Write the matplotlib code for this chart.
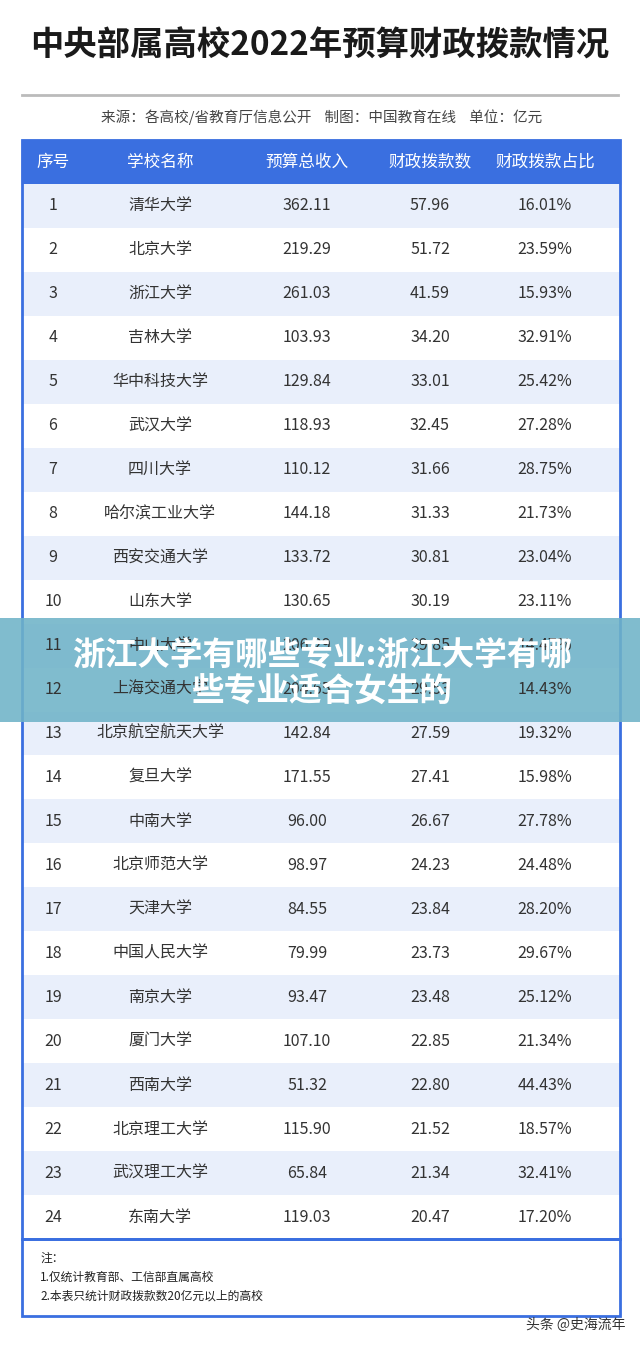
import matplotlib
matplotlib.use("Agg")
import matplotlib.pyplot as plt
from matplotlib.patches import Rectangle

plt.rcParams['font.family'] = ['Noto Sans CJK SC', 'DejaVu Sans']

title = "中央部属高校2022年预算财政拨款情况"
subtitle = "来源：各高校/省教育厅信息公开    制图：中国教育在线    单位：亿元"
headers = ["序号", "学校名称", "预算总收入", "财政拨款数", "财政拨款占比"]
schools = ["清华大学", "北京大学", "浙江大学", "吉林大学", "华中科技大学", "武汉大学", "四川大学",
           "哈尔滨工业大学", "西安交通大学", "山东大学", "中山大学", "上海交通大学", "北京航空航天大学",
           "复旦大学", "中南大学", "北京师范大学", "天津大学", "中国人民大学", "南京大学", "厦门大学",
           "西南大学", "北京理工大学", "武汉理工大学", "东南大学"]
budget = [362.11, 219.29, 261.03, 103.93, 129.84, 118.93, 110.12, 144.18, 133.72, 130.65, 206.29, 204.65,
          142.84, 171.55, 96.00, 98.97, 84.55, 79.99, 93.47, 107.10, 51.32, 115.90, 65.84, 119.03]
funding = [57.96, 51.72, 41.59, 34.20, 33.01, 32.45, 31.66, 31.33, 30.81, 30.19, 29.85, 29.53,
           27.59, 27.41, 26.67, 24.23, 23.84, 23.73, 23.48, 22.85, 22.80, 21.52, 21.34, 20.47]
share = ["16.01%", "23.59%", "15.93%", "32.91%", "25.42%", "27.28%", "28.75%", "21.73%", "23.04%", "23.11%",
         "14.47%", "14.43%", "19.32%", "15.98%", "27.78%", "24.48%", "28.20%", "29.67%", "25.12%", "21.34%",
         "44.43%", "18.57%", "32.41%", "17.20%"]
notes = ["注：", "1.仅统计教育部、工信部直属高校", "2.本表只统计财政拨款数20亿元以上的高校"]
banner = ["浙江大学有哪些专业:浙江大学有哪", "些专业适合女生的"]

W, H = 640, 1346
fig = plt.figure(figsize=(W/100, H/100), dpi=100)
ax = fig.add_axes([0, 0, 1, 1])
ax.set_xlim(0, W); ax.set_ylim(H, 0); ax.axis('off')

blue = "#3a6fe0"
ax.text(320, 46, title, ha='center', va='center', fontsize=24, fontweight='bold', color='#1a1a1a')
ax.plot([22, 618], [95, 95], color='#bbbbbb', lw=2)
ax.text(322, 117, subtitle, ha='center', va='center', fontsize=10.5, color='#444444')

cols = [53, 160, 307, 430, 545]
top, hh, rh = 140, 44, 43.96
ax.add_patch(Rectangle((22, top), 598, hh, color=blue))
for x, h in zip(cols, headers):
    ax.text(x, top + hh/2, h, ha='center', va='center', fontsize=12, color='white')
y0 = top + hh
for i in range(len(schools)):
    y = y0 + i*rh
    ax.add_patch(Rectangle((22, y), 598, rh, color='#e9effb' if i % 2 == 0 else 'white', lw=0))
    vals = [str(i+1), schools[i], f"{budget[i]:.2f}", f"{funding[i]:.2f}", share[i]]
    for x, v in zip(cols, vals):
        ax.text(x, y + rh/2, v, ha='center', va='center', fontsize=11.5, color='#333333')
ybot = y0 + len(schools)*rh
ax.add_patch(Rectangle((22, top), 598, ybot - top, fill=False, ec=blue, lw=2))
ax.add_patch(Rectangle((22, ybot), 598, 1316 - ybot, fill=False, ec=blue, lw=2))
for k, n in enumerate(notes):
    ax.text(40, ybot + 19 + k*19, n, ha='left', va='center', fontsize=8.5, color='#222222')
ax.text(625, 1325, "头条 @史海流年", ha='right', va='center', fontsize=10, color='#333333')

ax.add_patch(Rectangle((0, 618), W, 104, color='#6fb3c8', alpha=0.88, lw=0))
ax.text(322, 656, banner[0], ha='center', va='center', fontsize=23.5, fontweight='bold', color='white')
ax.text(322, 692, banner[1], ha='center', va='center', fontsize=23.5, fontweight='bold', color='white')

fig.savefig("out.png", dpi=100)
